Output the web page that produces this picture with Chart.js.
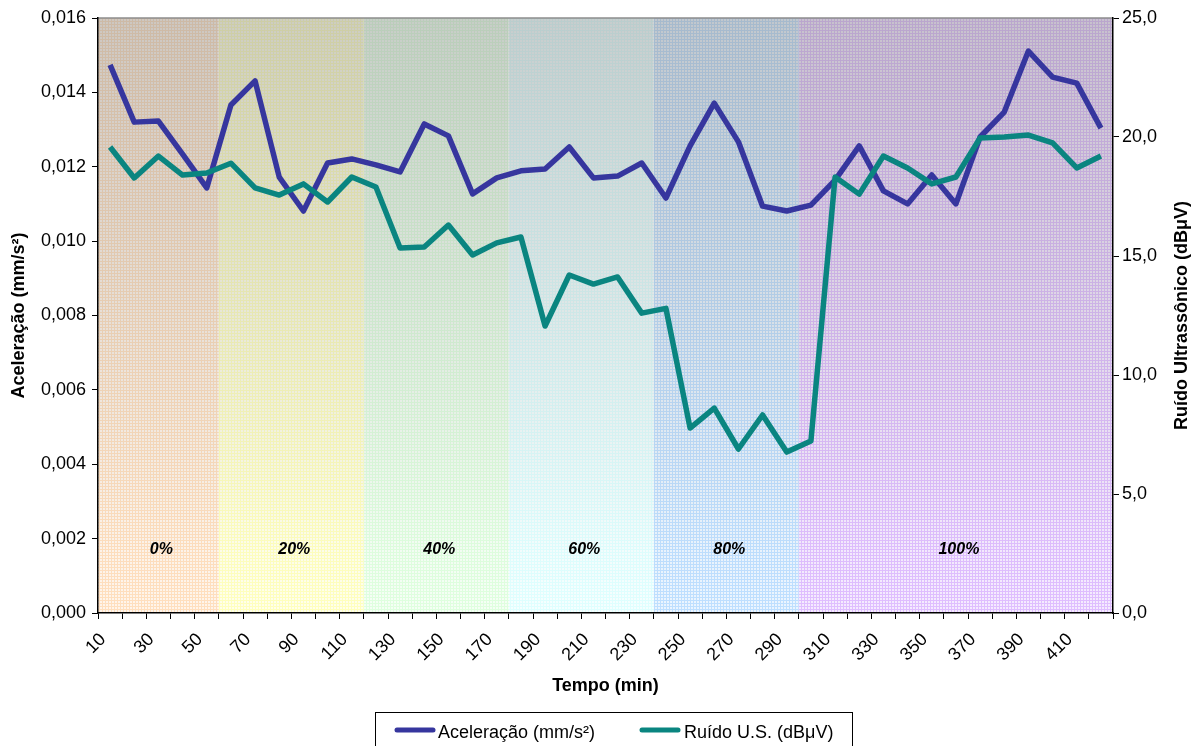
<!DOCTYPE html>
<html><head><meta charset="utf-8">
<script src="https://cdn.jsdelivr.net/npm/chart.js@4/dist/chart.umd.min.js"></script>
<style>html,body{margin:0;padding:0;background:#fff;overflow:hidden}#wrap{width:1201px;height:746px}</style>
</head><body><div id="wrap"><canvas id="c" width="1201" height="746"></canvas></div>
<script>
const categories = [10,20,30,40,50,60,70,80,90,100,110,120,130,140,150,160,170,180,190,200,210,220,230,240,250,260,270,280,290,300,310,320,330,340,350,360,370,380,390,400,410,420];
const acceleration = [0.01474,0.0132,0.01323,0.01234,0.01143,0.01366,0.01431,0.01172,0.01081,0.0121,0.01221,0.01205,0.01186,0.01315,0.01283,0.01127,0.0117,0.01189,0.01194,0.01253,0.0117,0.01175,0.0121,0.01116,0.01256,0.01371,0.01267,0.01094,0.01081,0.01097,0.01164,0.01256,0.01135,0.011,0.01178,0.011,0.0128,0.01347,0.01511,0.01441,0.01425,0.01304];
const noise = [19.58,18.28,19.2,18.4,18.49,18.9,17.86,17.56,18.03,17.27,18.32,17.9,15.34,15.38,16.3,15.04,15.55,15.8,12.06,14.2,13.82,14.12,12.6,12.8,7.77,8.61,6.89,8.32,6.76,7.23,18.32,17.6,19.2,18.7,18.03,18.32,19.96,20.0,20.08,19.75,18.7,19.2];
const leftTicks = [0,0.002,0.004,0.006,0.008,0.010,0.012,0.014,0.016];
const rightTicks = [0,5,10,15,20,25];
const bandLabels = ['0%','20%','40%','60%','80%','100%'];
const bandStarts = [0,5,11,17,23,29];
const bandEnds = [5,11,17,23,29,42];

const bandColors = ['#ffcc99','#ffff99','#ccffcc','#ccffff','#99ccff','#cc99ff'];
const FONT = "'Liberation Sans', Arial, sans-serif";

function makePattern(ctx, color){
  const c = document.createElement('canvas'); c.width = 3; c.height = 3;
  const g = c.getContext('2d');
  g.fillStyle = '#fff'; g.fillRect(0,0,3,3);
  g.fillStyle = color;
  g.globalAlpha = 0.2; g.fillRect(0,0,3,3);
  g.globalAlpha = 0.55; g.fillRect(0,0,3,1); g.fillRect(0,1,1,2);
  return ctx.createPattern(c,'repeat');
}

const bandsPlugin = {
  id: 'bands',
  beforeDraw(chart){
    const {ctx, chartArea:a, scales} = chart;
    const xs = scales.x, ys = scales.y;
    const half = (xs.getPixelForValue(1) - xs.getPixelForValue(0)) / 2;
    ctx.save();
    for (let b = 0; b < bandLabels.length; b++){
      const x0 = Math.max(a.left, xs.getPixelForValue(bandStarts[b]) - half);
      const x1 = Math.min(a.right, xs.getPixelForValue(bandEnds[b] - 1) + half);
      ctx.fillStyle = makePattern(ctx, bandColors[b]);
      ctx.fillRect(x0, a.top, x1 - x0, a.bottom - a.top);
      const gr = ctx.createLinearGradient(0, a.top, 0, a.bottom);
      gr.addColorStop(0, 'rgba(130,130,130,0.40)');
      gr.addColorStop(0.9, 'rgba(130,130,130,0.02)');
      gr.addColorStop(1, 'rgba(130,130,130,0)');
      ctx.fillStyle = gr;
      ctx.fillRect(x0, a.top, x1 - x0, a.bottom - a.top);
      ctx.fillStyle = '#000';
      ctx.font = 'italic bold 16px ' + FONT;
      ctx.textAlign = 'center'; ctx.textBaseline = 'middle';
      ctx.fillText(bandLabels[b], (x0 + x1) / 2 + 3, ys.getPixelForValue(0.0017));
    }
    ctx.strokeStyle = '#8c8c8c'; ctx.lineWidth = 1.5;
    ctx.beginPath(); ctx.moveTo(a.left, a.top); ctx.lineTo(a.right, a.top); ctx.stroke();
    ctx.restore();
  },
  afterDraw(chart){
    const {ctx, chartArea:a} = chart;
    ctx.save();
    ctx.translate(1182, (a.top + a.bottom) / 2);
    ctx.rotate(-Math.PI / 2);
    ctx.font = 'bold 18px ' + FONT; ctx.fillStyle = '#000';
    ctx.textAlign = 'center'; ctx.textBaseline = 'middle';
    ctx.fillText('Ruído Ultrassônico (dBμV)', 0, 0);
    ctx.restore();
    ctx.save();
    ctx.strokeStyle = '#000'; ctx.lineWidth = 1;
    ctx.strokeRect(375.5, 712.5, 477, 40);
    const items = [[395, 438], [640, 684]];
    chart.data.datasets.forEach((ds, i) => {
      const [sx, tx] = items[i];
      ctx.strokeStyle = ds.borderColor; ctx.lineWidth = 5; ctx.lineCap = 'round';
      ctx.beginPath(); ctx.moveTo(sx + 2, 730); ctx.lineTo(sx + 38, 730); ctx.stroke();
      ctx.fillStyle = '#000'; ctx.font = '18px ' + FONT;
      ctx.textAlign = 'left'; ctx.textBaseline = 'middle';
      ctx.fillText(ds.label, tx, 733);
    });
    ctx.restore();
  }
};

new Chart(document.getElementById('c'), {
  type: 'line',
  data: {
    labels: categories,
    datasets: [
      {label: 'Aceleração (mm/s²)', data: acceleration, yAxisID: 'y', borderColor: '#36369e', backgroundColor: '#36369e', borderWidth: 5.5, pointRadius: 0, tension: 0, borderJoinStyle: 'round', order: 1},
      {label: 'Ruído U.S. (dBμV)', data: noise, yAxisID: 'y1', borderColor: '#0a8580', backgroundColor: '#0a8580', borderWidth: 5.5, pointRadius: 0, tension: 0, borderJoinStyle: 'round', order: 0}
    ]
  },
  options: {
    responsive: false, animation: false, devicePixelRatio: 1,
    layout: {padding: {top: 18, bottom: 48, left: 0, right: 0}},
    plugins: {legend: {display: false}, tooltip: {enabled: false}},
    scales: {
      x: {
        type: 'category', offset: true,
        grid: {offset: true, drawOnChartArea: false, tickLength: 6, color: '#000'},
        border: {color: '#000', width: 1.5},
        ticks: {autoSkip: false, maxRotation: 45, minRotation: 45, padding: 10, labelOffset: -7, color: '#000', font: {family: FONT, size: 18},
          callback: (v, i) => i % 2 === 0 ? String(categories[i]) : ''},
        title: {display: true, text: 'Tempo (min)', color: '#000', font: {family: FONT, size: 18, weight: 'bold'}, padding: {top: 4, bottom: 1}},
        afterFit: s => { s.height = 85; }
      },
      y: {
        position: 'left', min: 0, max: 0.016,
        afterBuildTicks: s => { s.ticks = leftTicks.map(v => ({value: v})); },
        grid: {drawOnChartArea: false, tickLength: 6, color: '#000'},
        border: {color: '#000', width: 1.5},
        ticks: {padding: 6, color: '#000', font: {family: FONT, size: 18}, callback: v => v.toFixed(3).replace('.', ',')},
        title: {display: true, text: 'Aceleração (mm/s²)', color: '#000', font: {family: FONT, size: 18, weight: 'bold'}, padding: {top: 8, bottom: 0}},
        afterFit: s => { s.width = 98; }
      },
      y1: {
        position: 'right', min: 0, max: 25,
        afterBuildTicks: s => { s.ticks = rightTicks.map(v => ({value: v})); },
        grid: {drawOnChartArea: false, tickLength: 6, color: '#000'},
        border: {color: '#000', width: 1.5},
        ticks: {padding: 3, color: '#000', font: {family: FONT, size: 18}, callback: v => v.toFixed(1).replace('.', ',')},
        afterFit: s => { s.width = 88; }
      }
    }
  },
  plugins: [bandsPlugin]
});
</script></body></html>
